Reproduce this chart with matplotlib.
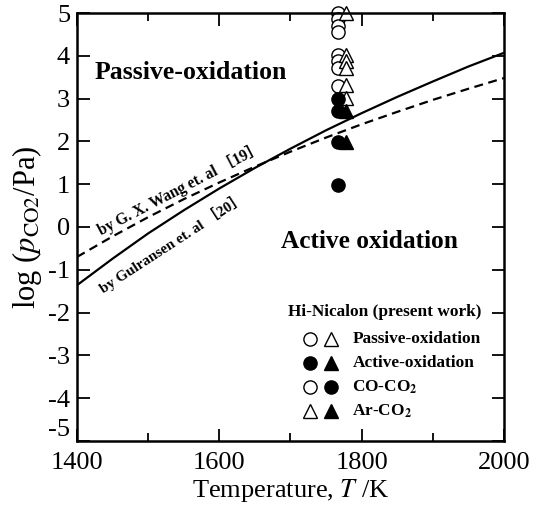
import matplotlib
matplotlib.use('Agg')
import matplotlib.pyplot as plt
from matplotlib.ticker import MultipleLocator

plt.rcParams['font.family'] = 'Liberation Serif'
plt.rcParams['mathtext.fontset'] = 'stix'
plt.rcParams['axes.unicode_minus'] = False

# boundary lines
line_T = [1400, 1450, 1500, 1550, 1600, 1650, 1700, 1750, 1800, 1850, 1900, 1950, 2000]
gulransen = [-1.36, -0.74, -0.15, 0.39, 0.90, 1.38, 1.83, 2.26, 2.66, 3.04, 3.40, 3.75, 4.07]
wang = [-0.70, -0.22, 0.23, 0.65, 1.04, 1.41, 1.76, 2.09, 2.40, 2.69, 2.97, 3.23, 3.48]

# Hi-Nicalon measurements
T_circle = 1767
T_tri = 1778
co_passive = [5.0, 4.85, 4.7, 4.55, 4.02, 3.87, 3.72, 3.3]
co_active = [3.0, 2.72, 1.98, 0.97]
ar_passive = [5.0, 4.02, 3.87, 3.72, 3.32, 3.02]
ar_active = [2.70, 1.99]

fig = plt.figure(figsize=(5.38, 5.08), dpi=100)
ax = fig.add_axes([0.1431, 0.1319, 0.7937, 0.8425])

ax.plot(line_T, gulransen, 'k-', lw=1.6)
ax.plot(line_T, wang, 'k--', lw=1.6, dashes=(4, 2.5))

ms = 9.5
ax.plot([T_circle] * len(co_passive), co_passive, 'o', ms=ms, mfc='white', mec='k', mew=1.0, clip_on=False, ls='none')
ax.plot([T_tri] * len(ar_passive), ar_passive, '^', ms=ms + 1, mfc='white', mec='k', mew=1.0, clip_on=False, ls='none')
ax.plot([T_circle] * len(co_active), co_active, 'o', ms=ms, mfc='k', mec='k', clip_on=False, ls='none')
ax.plot([T_tri] * len(ar_active), ar_active, '^', ms=ms + 1, mfc='k', mec='k', clip_on=False, ls='none')

ax.set_xlim(1400, 2000)
ax.set_ylim(-5, 5)
ax.xaxis.set_major_locator(MultipleLocator(200))
ax.xaxis.set_minor_locator(MultipleLocator(100))
ax.yaxis.set_major_locator(MultipleLocator(1))
ax.tick_params(which='both', direction='in', top=True, right=True, width=1.3, labelsize=19)
ax.tick_params(which='major', length=9)
ax.tick_params(which='minor', length=6)
ax.tick_params(axis='x', pad=8)
ax.tick_params(axis='y', pad=5)
for s in ax.spines.values():
    s.set_linewidth(1.8)

ax.set_xlabel('Temperature, $T$ /K', fontsize=19, labelpad=2)
ax.set_ylabel(r'log ($p_{\mathrm{CO2}}$/Pa)', fontsize=22, labelpad=3)

ax.text(1560, 3.62, 'Passive-oxidation', fontsize=18.5, fontweight='bold', ha='center', va='center')
ax.text(1811, -0.33, 'Active oxidation', fontsize=18.3, fontweight='bold', ha='center', va='center')
ax.text(1545, 0.88, 'by G. X. Wang et. al ［19］', fontsize=11.2, fontweight='bold',
        ha='center', va='center', rotation=27.5, family=['Liberation Serif', 'Noto Sans CJK JP'])
ax.text(1533, -0.37, 'by Gulransen et. al ［20］', fontsize=10.8, fontweight='bold',
        ha='center', va='center', rotation=33, family=['Liberation Serif', 'Noto Sans CJK JP'])

# legend drawn by hand
tr = ax.transAxes
ax.text(0.495, 0.302, 'Hi-Nicalon (present work)', transform=tr, fontsize=12.4, fontweight='bold', va='center')
rows = [
    (0.238, ('o', 'white'), ('^', 'white'), 'Passive-oxidation'),
    (0.183, ('o', 'k'), ('^', 'k'), 'Active-oxidation'),
    (0.125, ('o', 'white'), ('o', 'k'), r'CO-CO$_{\mathbf{2}}$'),
    (0.069, ('^', 'white'), ('^', 'k'), r'Ar-CO$_{\mathbf{2}}$'),
]
for y, m1, m2, label in rows:
    for x, (mk, fc) in zip((0.546, 0.596), (m1, m2)):
        ax.plot([x], [y], mk, transform=tr, ms=ms if mk == 'o' else ms + 1,
                mfc=fc, mec='k', mew=1.0, clip_on=False)
    ax.text(0.645, y, label, transform=tr, fontsize=12.4, fontweight='bold', va='center')

# the bottom y label sits a little higher, clear of "1400"
fig.canvas.draw()
for t in ax.yaxis.get_major_ticks():
    if t.get_loc() == -5:
        t.label1.set_verticalalignment('bottom')

fig.savefig('out.png', dpi=100)
